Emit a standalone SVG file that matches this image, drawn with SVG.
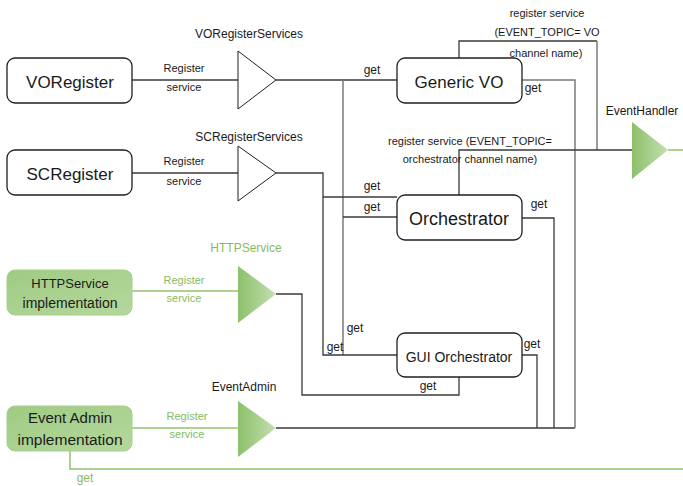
<svg xmlns="http://www.w3.org/2000/svg" width="683" height="486" viewBox="0 0 683 486">
  <defs>
    <linearGradient id="gTri" x1="0" y1="0" x2="1" y2="0">
      <stop offset="0" stop-color="#8cc06a"/>
      <stop offset="1" stop-color="#c4dfb1"/>
    </linearGradient>
    <linearGradient id="gBox" x1="0" y1="0" x2="1" y2="1">
      <stop offset="0" stop-color="#9fcb83"/>
      <stop offset="1" stop-color="#b5d89d"/>
    </linearGradient>
    <style>
      text { font-family: "Liberation Sans", Arial, sans-serif; fill: #1a1a1a; text-anchor: middle; }
      .box { fill: #ffffff; stroke: #1f1f1f; stroke-width: 1.3; }
      .gbox { fill: url(#gBox); stroke: #a6cf8c; stroke-width: 1; }
      .tri { fill: #ffffff; stroke: #1f1f1f; stroke-width: 1; }
      .gtri { fill: url(#gTri); stroke: none; }
      .dark { fill: none; stroke: #3a3a3a; stroke-width: 1.3; }
      .grey { fill: none; stroke: #7a7a7a; stroke-width: 1.5; }
      .green { fill: none; stroke: #90c46f; stroke-width: 1.5; }
      .big { font-size: 17px; }
      .mid { font-size: 14px; }
      .lbl { font-size: 12px; }
      .sm { font-size: 11px; }
      .gt { fill: #86bb61; }
    </style>
  </defs>

  <!-- connectors -->
  <g id="connectors">
    <!-- provider to service interfaces -->
    <path class="dark" d="M132 80 H238"/>
    <path class="dark" d="M132 173 H238"/>
    <path class="green" d="M132 291 H238"/>
    <path class="green" d="M132 428 H238"/>

    <!-- VORegisterServices fan-out -->
    <path class="dark" d="M276 80 H397"/>
    <path class="grey" d="M343 80 V355"/>
    <path class="dark" d="M343 217 H397"/>

    <!-- SCRegisterServices fan-out -->
    <path class="dark" d="M276 173 H323 V355 H397"/>
    <path class="dark" d="M323 197 H397"/>

    <!-- HTTPService to GUI Orchestrator -->
    <path class="dark" d="M276 294 H302 V395 H459 V377"/>

    <!-- EventAdmin to the three consumers -->
    <path class="dark" d="M276 428 H575"/>
    <path class="grey" d="M522 80 H575 V428"/>
    <path class="dark" d="M522 218 H554 V428"/>
    <path class="dark" d="M522 355 H537 V428"/>

    <!-- event handler registrations -->
    <path class="dark" d="M459 58 V41 H597"/>
    <path class="grey" d="M597 41 V150"/>
    <path class="dark" d="M459 195 V150 H632"/>

    <!-- EventHandler output and EventAdmin get -->
    <path class="green" d="M668 150 H683"/>
    <path class="green" d="M70 451 V469 H683"/>

    <!-- connector labels -->
    <text class="sm" x="184" y="72">Register</text>
    <text class="sm" x="184" y="91">service</text>
    <text class="sm" x="184" y="165">Register</text>
    <text class="sm" x="184" y="185">service</text>
    <text class="sm gt" x="184" y="284">Register</text>
    <text class="sm gt" x="184" y="302">service</text>
    <text class="sm gt" x="187" y="420">Register</text>
    <text class="sm gt" x="187" y="438">service</text>

    <text class="lbl" x="372" y="74">get</text>
    <text class="lbl" x="372" y="190">get</text>
    <text class="lbl" x="372" y="211">get</text>
    <text class="lbl" x="355" y="332">get</text>
    <text class="lbl" x="335" y="351">get</text>
    <text class="lbl" x="533" y="92">get</text>
    <text class="lbl" x="539" y="208">get</text>
    <text class="lbl" x="532" y="348">get</text>
    <text class="lbl" x="428" y="390">get</text>
    <text class="lbl gt" x="85" y="482">get</text>

    <text class="sm" x="547" y="17">register service</text>
    <text class="sm" x="547" y="36">(EVENT_TOPIC= VO</text>
    <text class="sm" x="546" y="57">channel name)</text>
    <text class="sm" x="470" y="145">register service (EVENT_TOPIC=</text>
    <text class="sm" x="470" y="163">orchestrator channel name)</text>
  </g>

  <!-- service interfaces -->
  <g id="VORegisterServices">
    <polygon class="tri" points="238,51 276,80 238,109"/>
    <text class="lbl" x="249" y="38">VORegisterServices</text>
  </g>
  <g id="SCRegisterServices">
    <polygon class="tri" points="238,146 276,173 238,201"/>
    <text class="lbl" x="249" y="141">SCRegisterServices</text>
  </g>
  <g id="HTTPService">
    <polygon class="gtri" points="238,266 276,294 238,323"/>
    <text class="lbl gt" x="246" y="252">HTTPService</text>
  </g>
  <g id="EventAdmin">
    <polygon class="gtri" points="238,401 276,428 238,457"/>
    <text class="lbl" x="244" y="391">EventAdmin</text>
  </g>
  <g id="EventHandler">
    <polygon class="gtri" points="632,122 668,150 632,179"/>
    <text class="lbl" x="642" y="115">EventHandler</text>
  </g>

  <!-- components -->
  <g id="VORegister">
    <rect class="box" x="7" y="58" width="125" height="45" rx="8"/>
    <text class="big" x="70" y="88">VORegister</text>
  </g>
  <g id="SCRegister">
    <rect class="box" x="7" y="150" width="125" height="45" rx="8"/>
    <text class="big" x="70" y="180">SCRegister</text>
  </g>
  <g id="HTTPServiceImpl">
    <rect class="gbox" x="7" y="270" width="125" height="45" rx="8"/>
    <text class="mid" x="70" y="288" style="font-size:13px">HTTPService</text>
    <text class="mid" x="70" y="308">implementation</text>
  </g>
  <g id="EventAdminImpl">
    <rect class="gbox" x="7" y="406" width="125" height="45" rx="8"/>
    <text x="70" y="423" style="font-size:15px">Event Admin</text>
    <text x="70" y="445" style="font-size:15.5px">implementation</text>
  </g>
  <g id="GenericVO">
    <rect class="box" x="397" y="58" width="125" height="45" rx="8"/>
    <text class="big" x="459" y="88">Generic VO</text>
  </g>
  <g id="Orchestrator">
    <rect class="box" x="397" y="195" width="125" height="45" rx="8"/>
    <text class="big" x="459" y="225" style="font-size:18px">Orchestrator</text>
  </g>
  <g id="GUIOrchestrator">
    <rect class="box" x="397" y="333" width="125" height="44" rx="8"/>
    <text class="mid" x="459" y="362">GUI Orchestrator</text>
  </g>
</svg>
